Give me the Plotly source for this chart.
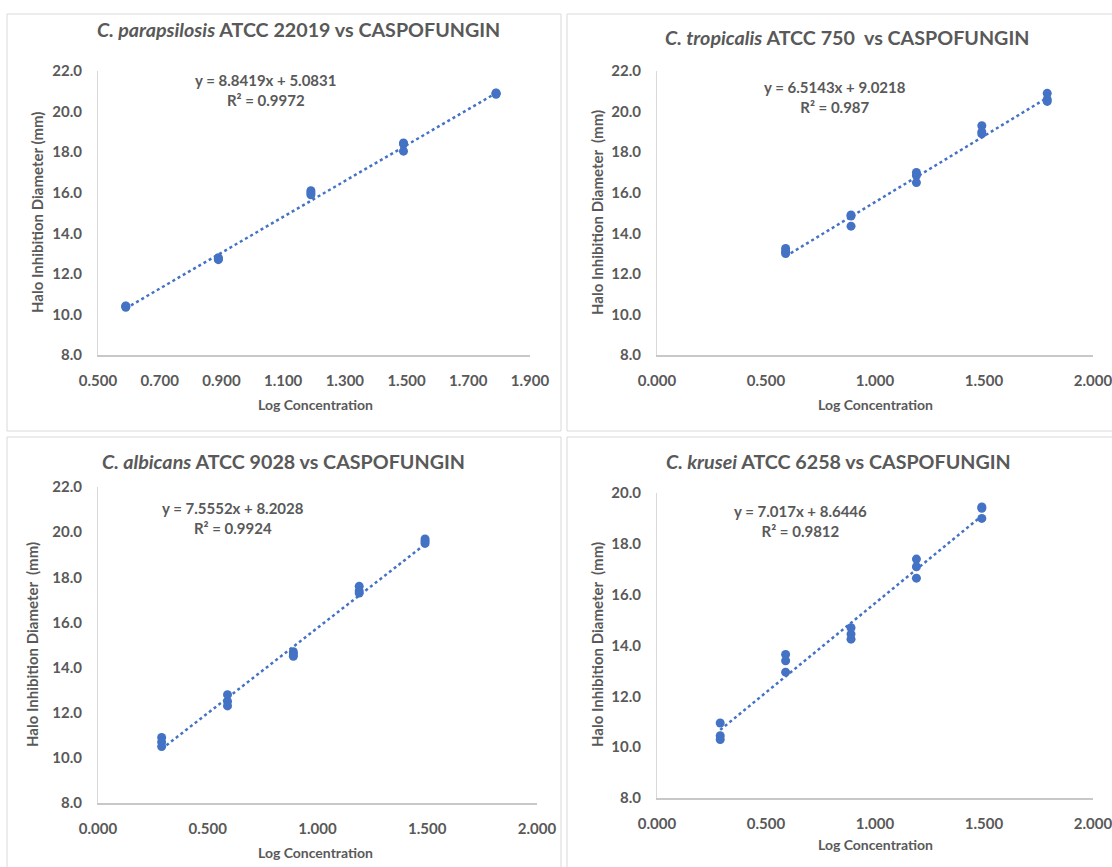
import plotly.graph_objects as go

W, H = 1112, 867

# ---------------- data ----------------
titles = [
    "<i>C. parapsilosis</i> ATCC 22019 vs CASPOFUNGIN",
    "<i>C. tropicalis</i> ATCC 750  vs CASPOFUNGIN",
    "<i>C. albicans</i> ATCC 9028 vs CASPOFUNGIN",
    "<i>C. krusei</i> ATCC 6258 vs CASPOFUNGIN",
]
y_titles = [
    "Halo Inhibition Diameter (mm)",
    "Halo Inhibition Diameter  (mm)",
    "Halo Inhibition Diameter  (mm)",
    "Halo Inhibition Diameter  (mm)",
]
x_title = "Log Concentration"

parapsilosis_x = [0.59, 0.59, 0.59, 0.89, 0.89, 0.89, 1.19, 1.19, 1.19, 1.49, 1.49, 1.49, 1.79, 1.79, 1.79]
parapsilosis_y = [10.4, 10.35, 10.42, 12.7, 12.8, 12.75, 16.1, 16.0, 15.9, 18.45, 18.4, 18.05, 20.9, 20.85, 20.92]

tropicalis_x = [0.59, 0.59, 0.59, 0.89, 0.89, 0.89, 1.19, 1.19, 1.19, 1.49, 1.49, 1.49, 1.79, 1.79, 1.79]
tropicalis_y = [13.25, 13.1, 13.0, 14.9, 14.85, 14.35, 17.0, 16.85, 16.5, 19.3, 19.0, 18.9, 20.9, 20.6, 20.5]

albicans_x = [0.29, 0.29, 0.29, 0.59, 0.59, 0.59, 0.89, 0.89, 0.89, 1.19, 1.19, 1.19, 1.49, 1.49, 1.49]
albicans_y = [10.9, 10.7, 10.5, 12.8, 12.5, 12.3, 14.7, 14.6, 14.5, 17.6, 17.4, 17.3, 19.7, 19.6, 19.5]

krusei_x = [0.29, 0.29, 0.29, 0.59, 0.59, 0.59, 0.89, 0.89, 0.89, 1.19, 1.19, 1.19, 1.49, 1.49, 1.49]
krusei_y = [10.95, 10.45, 10.3, 13.65, 13.4, 12.95, 14.7, 14.45, 14.25, 17.4, 17.1, 16.65, 19.45, 19.4, 19.0]

slopes = [8.8419, 6.5143, 7.5552, 7.017]
intercepts = [5.0831, 9.0218, 8.2028, 8.6446]
equations = ["y = 8.8419x + 5.0831", "y = 6.5143x + 9.0218", "y = 7.5552x + 8.2028", "y = 7.017x + 8.6446"]
r_squared = ["R² = 0.9972", "R² = 0.987", "R² = 0.9924", "R² = 0.9812"]

x_ranges = [(0.5, 1.9, 0.2), (0.0, 2.0, 0.5), (0.0, 2.0, 0.5), (0.0, 2.0, 0.5)]
y_ranges = [(8.0, 22.0, 2.0), (8.0, 22.0, 2.0), (8.0, 22.0, 2.0), (8.0, 20.0, 2.0)]

xs = [parapsilosis_x, tropicalis_x, albicans_x, krusei_x]
ys = [parapsilosis_y, tropicalis_y, albicans_y, krusei_y]

# ---------------- layout geometry (pixels) ----------------
plot_boxes = [  # x0, x1, ytop, ybottom
    (98, 530, 71, 355),
    (657, 1093, 71, 355),
    (98, 537, 487, 803),
    (657, 1093, 493, 798),
]
panel_boxes = [(7, 14, 561, 431), (567, 14, 1125, 431), (7, 437, 561, 880), (567, 437, 1125, 880)]
title_pos = [(298, 30), (847, 38), (283, 461), (838, 461)]
eq_pos = [(265, 69), (835, 76), (233, 497), (800, 500)]
xt_pos = [(315, 404), (875, 404), (315, 852), (875, 844)]
yt_pos = [(37, 213), (597, 213), (32, 645), (597, 645)]

BLUE = "#4472C4"
GRAY = "#595959"
FONT = "Lato"


def px(x):
    return x / W


def py(y):
    return 1 - y / H


fig = go.Figure()
annotations = []
shapes = []

for i in range(4):
    n = "" if i == 0 else str(i + 1)
    xa, ya = "x" + n, "y" + n
    fig.add_trace(go.Scatter(
        x=xs[i], y=ys[i], mode="markers", xaxis=xa, yaxis=ya,
        marker=dict(color=BLUE, size=9, line=dict(width=0)), showlegend=False,
    ))
    x0, x1 = min(xs[i]), max(xs[i])
    fig.add_trace(go.Scatter(
        x=[x0, x1], y=[slopes[i] * x0 + intercepts[i], slopes[i] * x1 + intercepts[i]],
        mode="lines", xaxis=xa, yaxis=ya,
        line=dict(color=BLUE, width=2.5, dash="dot"), showlegend=False,
    ))
    bx0, bx1, byt, byb = plot_boxes[i]
    xmin, xmax, xd = x_ranges[i]
    ymin, ymax, yd = y_ranges[i]
    fig.update_layout(**{
        "xaxis" + n: dict(
            domain=[px(bx0), px(bx1)], range=[xmin, xmax], tick0=xmin, dtick=xd,
            tickformat=".3f", showgrid=False, zeroline=False, showline=True,
            linecolor="#c8c8c8", linewidth=1.5, ticks="", anchor=ya, automargin=False,
            tickfont=dict(family=FONT, size=15, color=GRAY, weight="bold"),
            ticklabelstandoff=11, ticklabeloverflow="allow", fixedrange=True,
        ),
        "yaxis" + n: dict(
            domain=[py(byb), py(byt)], range=[ymin, ymax], tick0=ymin, dtick=yd,
            tickformat=".1f", showgrid=False, zeroline=False, showline=True,
            linecolor="#d9d9d9", linewidth=1, ticks="", anchor=xa, automargin=False,
            tickfont=dict(family=FONT, size=15, color=GRAY, weight="bold"),
            ticklabelstandoff=12, ticklabeloverflow="allow", fixedrange=True,
        ),
    })
    # panel border
    a, b, c, d = panel_boxes[i]
    shapes.append(dict(type="rect", xref="paper", yref="paper",
                       x0=px(a), x1=px(c), y0=py(d), y1=py(b),
                       line=dict(color="#d9d9d9", width=1), fillcolor="rgba(0,0,0,0)", layer="below"))
    tx, ty = title_pos[i]
    annotations.append(dict(text="<b>" + titles[i] + "</b>", x=px(tx), y=py(ty), xref="paper", yref="paper",
                            showarrow=False, xanchor="center", yanchor="middle",
                            font=dict(family=FONT, size=19.7, color=GRAY)))
    ex, ey = eq_pos[i]
    annotations.append(dict(text="<b>" + equations[i] + "<br>" + r_squared[i] + "</b>",
                            x=px(ex), y=py(ey), xref="paper", yref="paper",
                            showarrow=False, xanchor="center", yanchor="top", align="center",
                            font=dict(family=FONT, size=15, color=GRAY)))
    xx, xy = xt_pos[i]
    annotations.append(dict(text="<b>" + x_title + "</b>", x=px(xx), y=py(xy), xref="paper", yref="paper",
                            showarrow=False, xanchor="center", yanchor="middle",
                            font=dict(family=FONT, size=14, color=GRAY)))
    yx, yy = yt_pos[i]
    annotations.append(dict(text="<b>" + y_titles[i] + "</b>", x=px(yx), y=py(yy), xref="paper", yref="paper",
                            showarrow=False, xanchor="center", yanchor="middle", textangle=-90,
                            font=dict(family=FONT, size=15, color=GRAY)))

fig.update_layout(
    width=W, height=H, margin=dict(l=0, r=0, t=0, b=0, autoexpand=False),
    paper_bgcolor="white", plot_bgcolor="white",
    annotations=annotations, shapes=shapes, showlegend=False,
)

fig.write_html(
    "out.html",
    config={"displayModeBar": False},
    post_script="document.body.style.margin='0';document.body.style.overflow='hidden';",
)
